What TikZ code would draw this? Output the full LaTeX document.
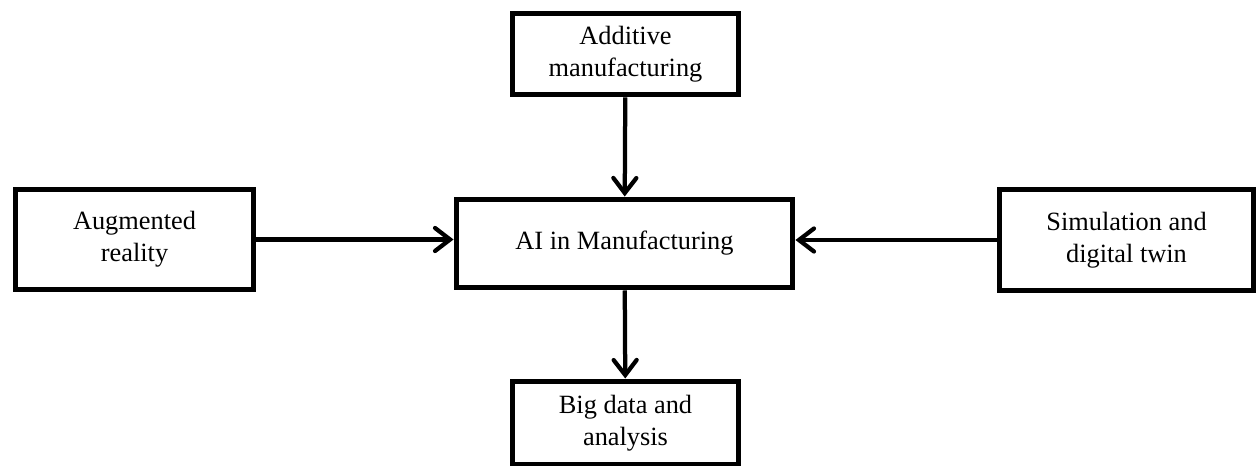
\documentclass[tikz,border=0pt]{standalone}
\usepackage{fontspec}
\setmainfont{Liberation Serif}
\usetikzlibrary{arrows.meta,positioning}

\tikzset{
    topicbox/.style={draw, line width=0.1cm, align=center, inner sep=0pt,
        font=\fontsize{15}{18.2}\selectfont},
    flow/.style={line width=0.085cm,
        -{Straight Barb[length=0.3cm,width=0.46cm,line cap=round]}}
}

\begin{document}
\begin{tikzpicture}[x=0.02cm,y=-0.02cm]
    \useasboundingbox (0,0) rectangle (1258,466);

    % Central topic
    \node[topicbox, minimum width=6.74cm, minimum height=1.78cm] (ai) at (624.5,243.5) {AI in Manufacturing};

    % Surrounding topics
    \node[topicbox, minimum width=4.54cm, minimum height=1.64cm] (additive) at (625.5,54) {Additive\\manufacturing};
    \node[topicbox, minimum width=4.78cm, minimum height=2.02cm] (augmented) at (134.5,239.5) {Augmented\\reality};
    \node[topicbox, minimum width=5.10cm, minimum height=2.04cm] (simulation) at (1126.5,240) {Simulation and\\digital twin};
    \node[topicbox, minimum width=4.54cm, minimum height=1.68cm] (bigdata) at (625.5,423) {Big data and\\analysis};

    % Connectors
    \draw[flow] (additive) -- (ai);
    \draw[flow] (augmented.east) -- (ai.west |- augmented.east);
    \draw[flow] (simulation.west) -- (ai.east |- simulation.west);
    \draw[flow] (ai) -- (bigdata);
\end{tikzpicture}
\end{document}
